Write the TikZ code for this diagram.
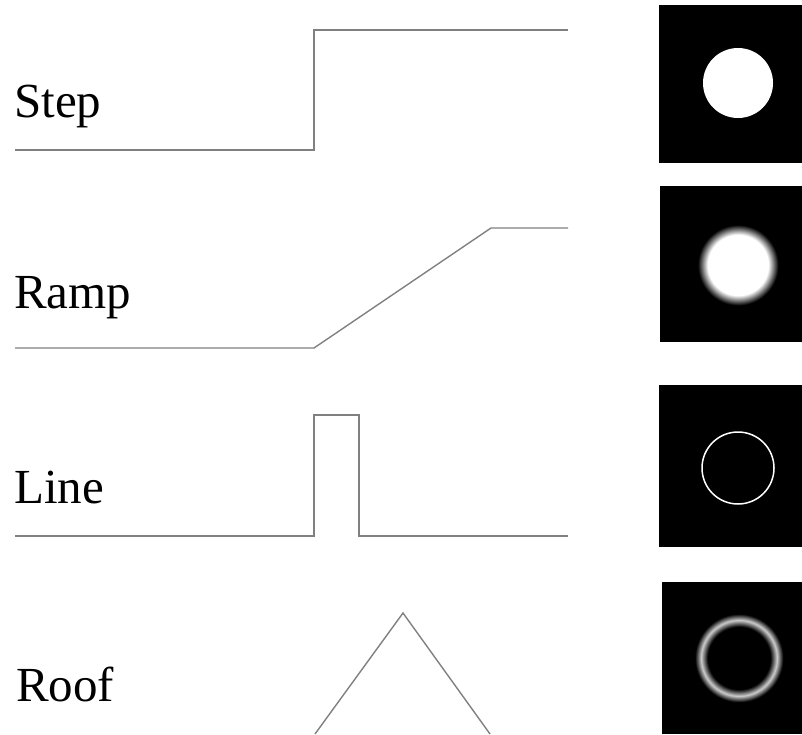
\documentclass[tikz,border=0pt]{standalone}
\usepackage{fontspec}
\setmainfont{Liberation Serif}
\definecolor{ringgray}{gray}{0.8}
\pgfdeclareradialshading{blurdisc}{\pgfpointorigin}{color(0bp)=(white); color(18bp)=(white); color(24bp)=(black); color(50bp)=(black)}
\pgfdeclareradialshading{blurring}{\pgfpointorigin}{color(0bp)=(black); color(17bp)=(black); color(20.6bp)=(ringgray); color(24bp)=(black); color(50bp)=(black)}

\begin{document}
\begin{tikzpicture}[x=1pt,y=-1pt,
	profile/.style={draw=black!50,line width=1.4pt},
	profname/.style={anchor=base west,inner sep=0pt,font=\fontsize{49}{49}\selectfont},
	panel/.style={fill=black}]
	\useasboundingbox (0,0) rectangle (802,734);
	% edge names
	\node[profname] (step) at (14,117) {Step};
	\node[profname] (ramp) at (14,308) {Ramp};
	\node[profname] (line) at (14,503) {Line};
	\node[profname] (roof) at (16,701) {Roof};
	% edge profiles
	\draw[profile] (15,150) -- (314,150) -- (314,30) -- (568,30);
	\draw[profile] (15,348) -- (314,348) -- (491,228) -- (568,228);
	\draw[profile] (15,536) -- (314,536) -- (314,415) -- (359,415) -- (359,536) -- (568,536);
	\draw[profile] (315,734) -- (403,613) -- (490,734);
	% images
	\fill[panel] (659,5) rectangle (802,163);
	\fill[white] (738,83) circle (35);
	\fill[panel] (660,186) rectangle (802,342);
	\shade[shading=blurdisc] (738,265) circle (42);
	\fill[panel] (659,385) rectangle (802,547);
	\draw[white,line width=1.5pt] (738,468) circle (36);
	\fill[panel] (662,582) rectangle (802,734);
	\shade[shading=blurring] (739,658) circle (46);
\end{tikzpicture}
\end{document}
